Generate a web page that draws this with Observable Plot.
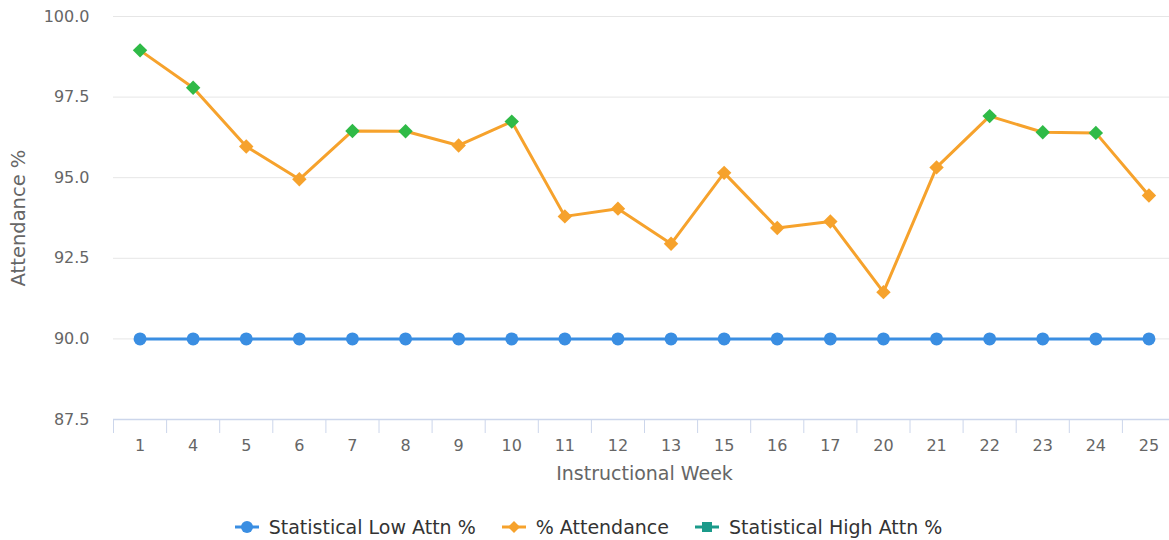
<!DOCTYPE html>
<html>
<head>
<meta charset="utf-8">
<script src="https://cdn.jsdelivr.net/npm/d3@7"></script>
<script src="https://cdn.jsdelivr.net/npm/@observablehq/plot@0.6"></script>
<style>
  html, body { margin: 0; padding: 0; background: #ffffff; }
  body { width: 1169px; height: 540px; overflow: hidden; font-family: "DejaVu Sans", sans-serif; }
  #legend { display: flex; justify-content: center; align-items: center; gap: 26px; height: 35px; padding-top: 4px; font-size: 19px; color: #333333; padding-left: 8px; }
  .item { display: flex; align-items: center; gap: 10px; }
  .item svg { display: block; }
</style>
</head>
<body>
<div id="chart"></div>
<div id="legend"></div>
<script>
// ---- data ----
const weeks = ["1", "4", "5", "6", "7", "8", "9", "10", "11", "12", "13", "15", "16", "17", "20", "21", "22", "23", "24", "25"];
const attendance = [98.95, 97.79, 95.97, 94.95, 96.45, 96.44, 96.0, 96.74, 93.8, 94.04, 92.95, 95.15, 93.44, 93.64, 91.45, 95.32, 96.91, 96.41, 96.39, 94.45];
const statLow = [90, 90, 90, 90, 90, 90, 90, 90, 90, 90, 90, 90, 90, 90, 90, 90, 90, 90, 90, 90];
// markers drawn green in the reference (attendance above the statistical high band)
const aboveHigh = [true, true, false, false, true, true, false, true, false, false, false, false, false, false, false, false, true, true, true, false];
const seriesNames = ["Statistical Low Attn %", "% Attendance", "Statistical High Attn %"];
const seriesColors = ["#3a8ee2", "#f6a22c", "#1b9a8a"];
const highMarkerColor = "#2fba47";
const yTicks = [87.5, 90, 92.5, 95, 97.5, 100];
const yTitle = "Attendance %";
const xTitle = "Instructional Week";

// ---- chart ----
const W = 1169, H = 505, ML = 113, MR = -6, MT = 16, MB = 86;
const rows = weeks.map((w, i) => ({ week: w, att: attendance[i], low: statLow[i], high: aboveHigh[i] }));
const step = (W - ML - MR) / weeks.length;

const chart = Plot.plot({
  width: W,
  height: H,
  marginLeft: ML,
  marginRight: MR,
  marginTop: MT,
  marginBottom: MB,
  style: { fontFamily: "DejaVu Sans, sans-serif", fontSize: "16px", background: "#ffffff", overflow: "hidden" },
  x: { type: "point", domain: weeks, padding: 0.5, round: false },
  y: { domain: [yTicks[0], yTicks[yTicks.length - 1]] },
  marks: [
    Plot.ruleY(yTicks.slice(1), { stroke: "#e6e6e6", strokeWidth: 1 }),
    Plot.axisY(yTicks, { tickSize: 0, tickPadding: 24, tickFormat: d => d.toFixed(1), label: null, fill: "#666666", fontSize: 16 }),
    Plot.axisX({ tickSize: 0, tickPadding: 20, label: null, fill: "#666666", fontSize: 16 }),
    Plot.axisX({ tickSize: 14, text: null, label: null, dx: -step / 2, stroke: "#ccd6eb", strokeOpacity: 1 }),
    Plot.ruleY([yTicks[0]], { stroke: "#ccd6eb", strokeWidth: 1.5 }),
    Plot.line(rows, { x: "week", y: "low", stroke: seriesColors[0], strokeWidth: 3 }),
    Plot.dot(rows, { x: "week", y: "low", fill: seriesColors[0], r: 6.5 }),
    Plot.line(rows, { x: "week", y: "att", stroke: seriesColors[1], strokeWidth: 3 }),
    Plot.dot(rows.filter(d => !d.high), { x: "week", y: "att", symbol: "diamond2", fill: seriesColors[1], stroke: "none", r: 6.5 }),
    Plot.dot(rows.filter(d => d.high), { x: "week", y: "att", symbol: "diamond2", fill: highMarkerColor, stroke: "none", r: 6.5 }),
    Plot.text([yTitle], { frameAnchor: "left", textAnchor: "middle", dx: -95, rotate: -90, fill: "#666666", fontSize: 19.5 }),
    Plot.text([xTitle], { frameAnchor: "bottom", dy: 60, fill: "#666666", fontSize: 19 })
  ]
});
document.getElementById("chart").appendChild(chart);

// ---- legend ----
const legend = document.getElementById("legend");
const symbols = ["circle", "diamond", "square"];
seriesNames.forEach((name, i) => {
  const item = document.createElement("div");
  item.className = "item";
  const c = seriesColors[i];
  let marker = "";
  if (symbols[i] === "circle") marker = `<circle cx="12" cy="8" r="6" fill="${c}"/>`;
  else if (symbols[i] === "diamond") marker = `<path d="M12 2 L18 8 L12 14 L6 8 Z" fill="${c}"/>`;
  else marker = `<rect x="7" y="3" width="10" height="10" fill="${c}"/>`;
  item.innerHTML = `<svg width="24" height="16" viewBox="0 0 24 16"><line x1="0" y1="8" x2="24" y2="8" stroke="${c}" stroke-width="3"/>${marker}</svg><span>${name}</span>`;
  legend.appendChild(item);
});
</script>
</body>
</html>
